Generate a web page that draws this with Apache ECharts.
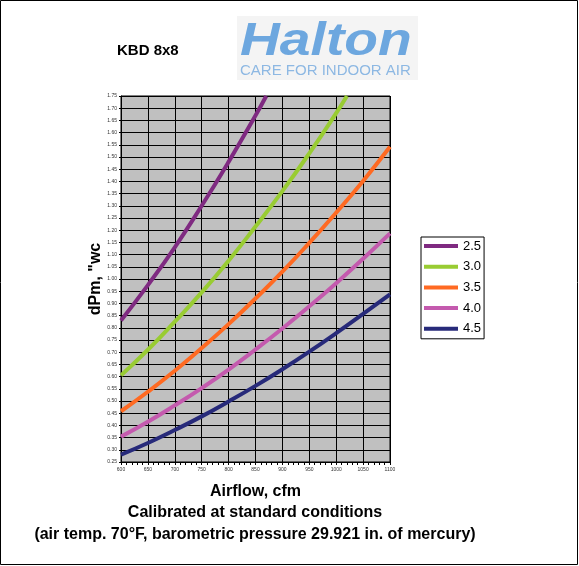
<!DOCTYPE html>
<html>
<head>
<meta charset="utf-8">
<script src="https://cdn.jsdelivr.net/npm/echarts@6/dist/echarts.min.js"></script>
<style>
  html, body { margin: 0; padding: 0; background: #fff; }
  #chart { width: 579px; height: 566px; }
</style>
</head>
<body>
<div id="chart"></div>
<script>
// 曲线名称（图例）
var seriesNames = ["2.5", "3.0", "3.5", "4.0", "4.5"];

// 各曲线 [cfm, dPm] 读数，超出 1.75 的部分在出界点截止
var curve25 = [[600, 0.83], [650, 0.975], [700, 1.13], [750, 1.30], [800, 1.48], [850, 1.67], [870, 1.75]];
var curve30 = [[600, 0.605], [650, 0.71], [700, 0.825], [750, 0.945], [800, 1.075], [850, 1.215], [900, 1.36], [950, 1.515], [1000, 1.68], [1020, 1.75]];
var curve35 = [[600, 0.458], [650, 0.538], [700, 0.624], [750, 0.717], [800, 0.815], [850, 0.92], [900, 1.03], [950, 1.148], [1000, 1.272], [1050, 1.402], [1100, 1.542]];
var curve40 = [[600, 0.354], [650, 0.415], [700, 0.482], [750, 0.553], [800, 0.629], [850, 0.711], [900, 0.797], [950, 0.888], [1000, 0.983], [1050, 1.083], [1100, 1.187]];
var curve45 = [[600, 0.28], [650, 0.328], [700, 0.381], [750, 0.437], [800, 0.498], [850, 0.562], [900, 0.63], [950, 0.702], [1000, 0.778], [1050, 0.857], [1100, 0.937]];

var seriesColors = ["#7F2A81", "#99CC33", "#FF6A22", "#C45AAE", "#272A7A"];

var chart = echarts.init(document.getElementById("chart"), null, { renderer: "canvas" });

var allCurves = [curve25, curve30, curve35, curve40, curve45];
var series = [];
for (var i = 0; i < allCurves.length; i++) {
  series.push({
    name: seriesNames[i],
    type: "line",
    data: allCurves[i],
    smooth: true,
    symbol: "none",
    clip: true,
    lineStyle: { width: 4, color: seriesColors[i] },
    itemStyle: { color: seriesColors[i] },
  });
}

var option = {
  backgroundColor: "#fff",
  animation: false,
  title: {
    text: "KBD 8x8",
    left: 112,
    top: 38,
    textStyle: { fontFamily: "Liberation Sans", fontSize: 15, fontWeight: "bold", color: "#000" },
  },
  legend: {
    orient: "vertical",
    left: 421,
    top: 237,
    padding: [0, 3, 1, 3],
    itemGap: 2.7,
    itemWidth: 34,
    itemHeight: 4,
    icon: "rect",
    borderColor: "#000",
    borderWidth: 1,
    backgroundColor: "#fff",
    data: seriesNames,
    textStyle: {
      fontFamily: "Liberation Sans",
      fontSize: 13,
      lineHeight: 12,
      padding: [6, 0, 0, 0],
      color: "#000",
    },
  },
  grid: {
    left: 121,
    top: 96,
    width: 269,
    height: 366,
    show: true,
    backgroundColor: "#C0C0C0",
    borderColor: "#000",
    borderWidth: 1,
  },
  xAxis: {
    type: "value",
    min: 600,
    max: 1100,
    interval: 50,
    name: "Airflow, cfm",
    nameLocation: "middle",
    nameGap: 22,
    nameTextStyle: { fontFamily: "Liberation Sans", fontSize: 16, fontWeight: "bold", color: "#000" },
    axisLine: { lineStyle: { color: "#000", width: 1 } },
    axisTick: { show: true, length: 3, lineStyle: { color: "#000" } },
    minorTick: { show: true, splitNumber: 5, length: 3, lineStyle: { color: "#000" } },
    axisLabel: {
      fontFamily: "Liberation Sans",
      fontSize: 5,
      color: "#333",
      margin: 5,
      formatter: function (v) { return String(v); },
    },
    splitLine: { show: true, lineStyle: { color: "#000", width: 1 } },
  },
  yAxis: {
    type: "value",
    min: 0.25,
    max: 1.75,
    interval: 0.05,
    name: 'dPm, "wc',
    nameLocation: "middle",
    nameGap: 17,
    nameTextStyle: { fontFamily: "Liberation Sans", fontSize: 16, fontWeight: "bold", color: "#000" },
    axisLine: { show: true, lineStyle: { color: "#000", width: 1 } },
    axisTick: { show: true, length: 2, lineStyle: { color: "#000" } },
    axisLabel: {
      fontFamily: "Liberation Sans",
      fontSize: 5,
      color: "#333",
      margin: 4,
      formatter: function (v) { return v.toFixed(2); },
    },
    splitLine: { show: true, lineStyle: { color: "#000", width: 1 } },
  },
  graphic: [
    {
      type: "rect",
      shape: { x: 0.5, y: 0.5, width: 577, height: 564 },
      style: { fill: "none", stroke: "#000", lineWidth: 1 },
      silent: true,
    },
    {
      type: "rect",
      shape: { x: 237, y: 16, width: 181, height: 64 },
      style: { fill: "#F4F4F4" },
      silent: true,
    },
    {
      type: "text",
      x: 240,
      y: 65,
      scaleX: 1.2,
      style: {
        text: "Halton",
        fontFamily: "Liberation Sans",
        fontSize: 46,
        fontWeight: "bold",
        fontStyle: "italic",
        fill: "#6DA7DF",
        verticalAlign: "bottom",
      },
    },
    {
      type: "text",
      x: 240,
      y: 78,
      style: {
        text: "CARE FOR INDOOR AIR",
        fontFamily: "Liberation Sans",
        fontSize: 15,
        fill: "#8DB8E3",
        verticalAlign: "bottom",
      },
    },
    {
      type: "text",
      x: 255,
      y: 512.5,
      style: {
        text: "Calibrated at standard conditions",
        fontFamily: "Liberation Sans",
        fontSize: 16,
        fontWeight: "bold",
        fill: "#000",
        align: "center",
        verticalAlign: "middle",
      },
    },
    {
      type: "text",
      x: 255,
      y: 534.5,
      style: {
        text: "(air temp. 70°F, barometric pressure 29.921 in. of mercury)",
        fontFamily: "Liberation Sans",
        fontSize: 16,
        fontWeight: "bold",
        fill: "#000",
        align: "center",
        verticalAlign: "middle",
      },
    },
  ],
  series: series,
};

chart.setOption(option);
</script>
</body>
</html>
